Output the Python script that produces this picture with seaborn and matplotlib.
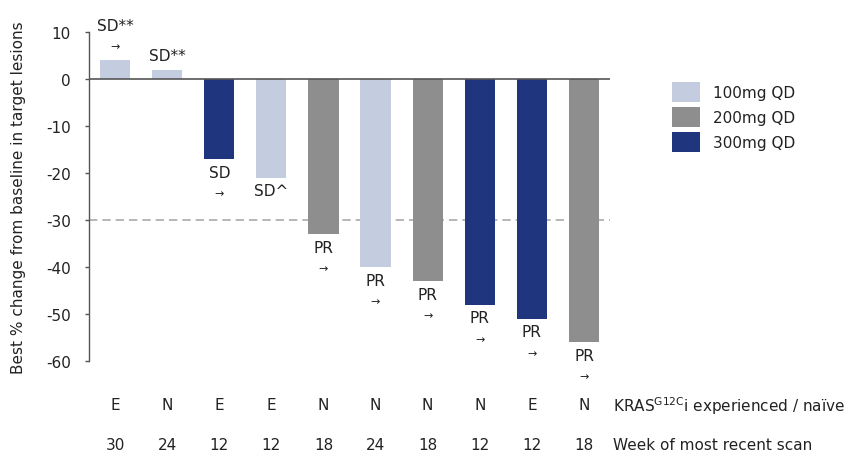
import pandas as pd
import seaborn as sns
import matplotlib.pyplot as plt
from matplotlib.transforms import blended_transform_factory

# data
patients = ["1", "2", "3", "4", "5", "6", "7", "8", "9", "10"]
change = [4, 2, -17, -21, -33, -40, -43, -48, -51, -56]
dose = ["100mg QD", "100mg QD", "300mg QD", "100mg QD", "200mg QD",
        "100mg QD", "200mg QD", "300mg QD", "300mg QD", "200mg QD"]
response = ["SD**", "SD**", "SD", "SD^", "PR", "PR", "PR", "PR", "PR", "PR"]
has_arrow = [True, False, True, False, True, True, True, True, True, True]
prior = ["E", "N", "E", "E", "N", "N", "N", "N", "E", "N"]
weeks = ["30", "24", "12", "12", "18", "24", "18", "12", "12", "18"]
dose_order = ["100mg QD", "200mg QD", "300mg QD"]
colors = {"100mg QD": "#c3cddf", "200mg QD": "#8e8e8e", "300mg QD": "#1f367f"}

sns.set_theme(style="white")
plt.rcParams['font.family'] = ['DejaVu Sans']
plt.rcParams['axes.unicode_minus'] = False
txt_col = "#222222"
fs = 11

df = pd.DataFrame({"pt": patients, "change": change, "dose": dose})

fig = plt.figure(figsize=(8.59, 4.56), dpi=100)
ax = fig.add_axes([89/859, 1 - 362/456, (610-89)/859, (362-33)/456])

sns.barplot(data=df, x="pt", y="change", hue="dose", hue_order=dose_order,
            palette=colors, dodge=False, width=0.58, saturation=1,
            order=patients, ax=ax, legend=True, linewidth=0)

ax.set_xlim(-0.5, 9.5)
ax.set_ylim(-60, 10)
ax.set_yticks(range(-60, 11, 10))
ax.tick_params(axis="y", length=3, width=1, color="#555555", labelsize=fs,
               labelcolor=txt_col, left=True, pad=10)
ax.tick_params(axis="x", bottom=False, labelbottom=False)
ax.set_xlabel("")
ax.set_ylabel("Best % change from baseline in target lesions", fontsize=fs,
              color=txt_col)
ax.yaxis.set_label_coords(-0.121, 0.5)
for s in ["top", "right", "bottom"]:
    ax.spines[s].set_visible(False)
ax.spines["left"].set_color("#555555")
ax.spines["left"].set_linewidth(1)
ax.axhline(0, color="#555555", lw=1.2, zorder=3)
ax.axhline(-30, color="#aaaaaa", lw=1.2, ls=(0, (5, 3)), zorder=0)

# response labels
for i, (v, r, a) in enumerate(zip(change, response, has_arrow)):
    if v >= 0:
        if a:
            ax.annotate(r, (i, v), xytext=(0, 25), textcoords="offset points",
                        ha="center", va="center", fontsize=fs, color=txt_col,
                        annotation_clip=False)
            ax.annotate("→", (i, v), xytext=(0, 10), textcoords="offset points",
                        ha="center", va="center", fontsize=8, color=txt_col,
                        annotation_clip=False)
        else:
            ax.annotate(r, (i, v), xytext=(0, 10), textcoords="offset points",
                        ha="center", va="center", fontsize=fs, color=txt_col,
                        annotation_clip=False)
    else:
        ax.annotate(r, (i, v), xytext=(0, -9.5), textcoords="offset points",
                    ha="center", va="center", fontsize=fs, color=txt_col,
                    annotation_clip=False)
        if a:
            ax.annotate("→", (i, v), xytext=(0, -24.5), textcoords="offset points",
                        ha="center", va="center", fontsize=8, color=txt_col,
                        annotation_clip=False)

# rows under the chart
tr = blended_transform_factory(ax.transData, fig.transFigure)
for i, (p, w) in enumerate(zip(prior, weeks)):
    ax.text(i, 1 - 406/456, p, transform=tr, ha="center", va="center",
            fontsize=fs, color=txt_col)
    ax.text(i, 1 - 446/456, w, transform=tr, ha="center", va="center",
            fontsize=fs, color=txt_col)
fig.text(613/859, 1 - 406/456, r"KRAS$^{\mathregular{G12C}}$i experienced / naïve",
         ha="left", va="center", fontsize=fs, color=txt_col)
fig.text(613/859, 1 - 446/456, "Week of most recent scan",
         ha="left", va="center", fontsize=fs, color=txt_col)

handles, labels = ax.get_legend_handles_labels()
ax.legend(handles, labels, loc="upper left",
          bbox_to_anchor=(666/859, 1 - 77/456), bbox_transform=fig.transFigure,
          frameon=False, fontsize=fs, handlelength=1.8, handleheight=1.6,
          labelspacing=0.35, handletextpad=0.9, borderaxespad=0)
for t in ax.get_legend().get_texts():
    t.set_color(txt_col)

fig.savefig("out.png", dpi=100)
